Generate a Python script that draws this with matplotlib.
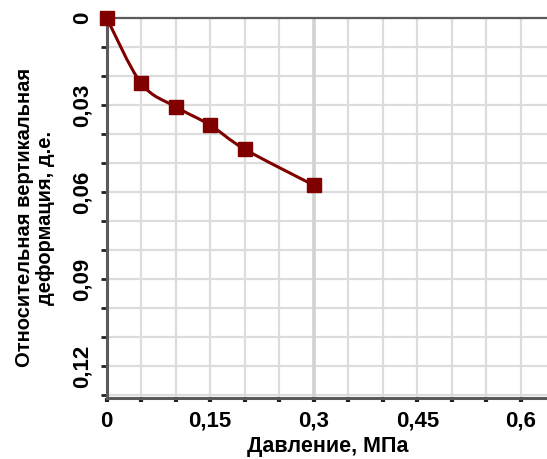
import matplotlib
matplotlib.use("Agg")
import matplotlib.pyplot as plt
from matplotlib.path import Path
from matplotlib.patches import PathPatch
from matplotlib.ticker import MultipleLocator

# Compression test: pressure (MPa) vs relative vertical strain
PRESSURE = [0.0, 0.05, 0.10, 0.15, 0.20, 0.30]
STRAIN = [0.0, 0.0225, 0.0306, 0.0369, 0.0452, 0.0576]

X_TICKS = [0.0, 0.15, 0.30, 0.45, 0.60]
X_TICK_LABELS = ["0", "0,15", "0,3", "0,45", "0,6"]
Y_TICKS = [0.0, 0.03, 0.06, 0.09, 0.12]
Y_TICK_LABELS = ["0", "0,03", "0,06", "0,09", "0,12"]

RED = "#800000"
SPINE = "#5a5a5a"
GRID = "#dcdcdc"


def smooth_path(xs, ys):
    """Catmull-Rom curve through the points, as cubic Bezier segments."""
    pts = list(zip(xs, ys))
    ext = [pts[0]] + pts + [pts[-1]]
    verts = [pts[0]]
    codes = [Path.MOVETO]
    for i in range(1, len(ext) - 2):
        p0, p1, p2, p3 = ext[i - 1], ext[i], ext[i + 1], ext[i + 2]
        c1 = (p1[0] + (p2[0] - p0[0]) / 6, p1[1] + (p2[1] - p0[1]) / 6)
        c2 = (p2[0] - (p3[0] - p1[0]) / 6, p2[1] - (p3[1] - p1[1]) / 6)
        verts += [c1, c2, p2]
        codes += [Path.CURVE4] * 3
    return Path(verts, codes)


plt.rcParams.update({
    "font.family": ["Liberation Sans", "DejaVu Sans"],
    "font.weight": "bold",
    "font.size": 16,
})

fig = plt.figure(figsize=(5.47, 4.59), dpi=100)
ax = fig.add_axes([0.195, 0.1322, 0.81, 0.8286])

ax.set_xlim(0, 0.6418)
ax.set_ylim(0.131, 0)

ax.xaxis.set_minor_locator(MultipleLocator(0.05))
ax.yaxis.set_minor_locator(MultipleLocator(0.01))
ax.set_xticks(X_TICKS)
ax.set_xticklabels(X_TICK_LABELS, fontweight="bold")
ax.set_yticks(Y_TICKS)
ax.set_yticklabels(Y_TICK_LABELS, fontweight="bold", rotation=90, va="center")

ax.grid(which="both", color=GRID, linewidth=1.6)
ax.axvline(PRESSURE[-1], color="#d2d2d2", linewidth=2.6, zorder=0.6)
ax.set_axisbelow(True)

ax.tick_params(axis="x", which="both", direction="out", length=3, width=3,
               color="#222222", pad=6)
ax.tick_params(axis="y", which="both", direction="out", length=4, width=2,
               color="#222222", pad=6)

for side in ("left", "bottom"):
    ax.spines[side].set_color(SPINE)
    ax.spines[side].set_linewidth(2.2)
ax.spines["top"].set_color(SPINE)
ax.spines["top"].set_linewidth(1.6)
ax.spines["right"].set_visible(False)

ax.add_patch(PathPatch(smooth_path(PRESSURE, STRAIN), fill=False,
                       edgecolor=RED, linewidth=2.2, zorder=3))
ax.plot(PRESSURE, STRAIN, linestyle="none", marker="s", markersize=10.5,
        color=RED, zorder=4, clip_on=False)

ax.set_xlabel("Давление, МПа", fontweight="bold", fontsize=15.5, labelpad=3)
ax.set_ylabel("Относительная вертикальная\nдеформация, д.е.",
              fontweight="bold", fontsize=14.5, linespacing=1.15)
ax.yaxis.set_label_coords(-0.117, 0.475)

fig.savefig("out.png", dpi=100)
